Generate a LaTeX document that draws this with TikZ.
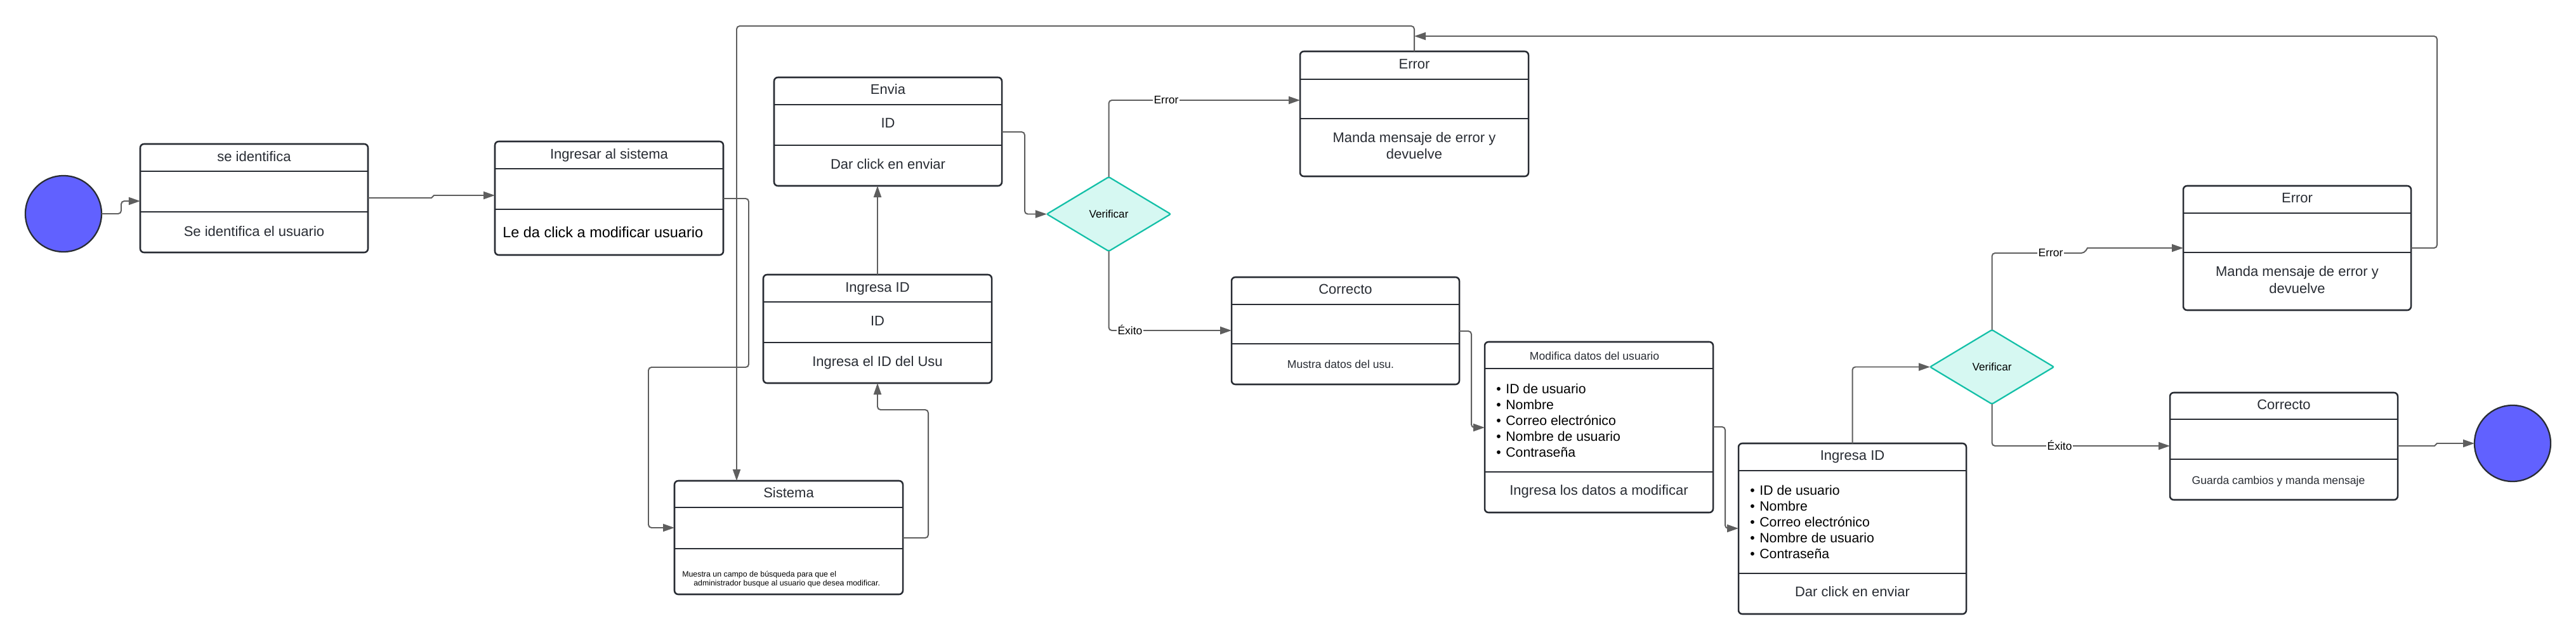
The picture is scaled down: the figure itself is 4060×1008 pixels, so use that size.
\documentclass[tikz,border=0pt]{standalone}
\usepackage{fontspec}
\setmainfont{Liberation Sans}
\usetikzlibrary{arrows.meta,shapes.geometric,fit}
\definecolor{boxc}{HTML}{282C33}
\definecolor{connc}{HTML}{5E5E5E}
\definecolor{circc}{HTML}{6161FF}
\definecolor{dfill}{HTML}{D6F8F2}
\definecolor{dline}{HTML}{14C0A8}
\definecolor{txtc}{HTML}{282C33}
\tikzset{
  box/.style={draw=boxc, line width=1.8pt, rounded corners=0.15cm, inner sep=0pt, outer sep=0pt, fill=white},
  divl/.style={draw=boxc, line width=1.8pt},
  conn/.style={draw=connc, line width=1.4pt, rounded corners=0.12cm, -{Triangle[length=0.45cm,width=0.3cm]}},
  circ/.style={circle, draw=boxc, line width=1.6pt, fill=circc, minimum size=3cm, inner sep=0pt, outer sep=0pt},
  decis/.style={diamond, draw=dline, fill=dfill, line width=1.6pt, minimum width=4.875cm, minimum height=2.925cm, inner sep=0pt, outer sep=0pt, rounded corners=0.05cm, font=\fontsize{12.2}{14}\selectfont, text=black},
  t/.style={font=\fontsize{15.65}{18}\selectfont, text=txtc, anchor=base, yshift=-0.198cm, inner sep=0pt},
  tb/.style={font=\fontsize{16.7}{19}\selectfont, text=black, anchor=base west, yshift=-0.21cm, inner sep=0pt},
  ts/.style={font=\fontsize{12.5}{15}\selectfont, text=txtc, anchor=base, yshift=-0.158cm, inner sep=0pt},
  tl/.style={font=\fontsize{15.1}{18}\selectfont, text=black, anchor=base west, yshift=-0.19cm, inner sep=0pt},
  tt/.style={font=\fontsize{8.8}{10}\selectfont, text=black, anchor=base west, yshift=-0.112cm, inner sep=0pt},
  lbl/.style={font=\fontsize{12.45}{14}\selectfont, text=black, fill=white, inner sep=1pt},
}
\newcommand{\umlbox}[7]{%
  \node[box, fit={(#2,#3) (#4,#5)}] (#1) {};
  \draw[divl] (#2,#6) -- (#4,#6);
  \draw[divl] (#2,#7) -- (#4,#7);
}
\begin{document}
\begin{tikzpicture}[x=0.025cm, y=-0.025cm]
\fill[white] (0,0) rectangle (4060,1008);
\useasboundingbox (0,0) rectangle (4060,1008);

% start / end
\node[circ] (start) at (100,337) {};
\node[circ] (endc) at (3960,699) {};

% boxes
\umlbox{sei}{221}{227}{580}{398}{270}{334}
\umlbox{ing}{780}{223}{1140}{402}{266}{330}
\umlbox{envia}{1220}{122}{1579}{293}{165}{229}
\umlbox{ingid}{1203}{433}{1563}{604}{476}{540}
\umlbox{sis}{1063}{758}{1423}{937}{800}{865}
\umlbox{err1}{2049}{81}{2409}{278}{125}{187}
\umlbox{cor1}{1941}{437}{2300}{606}{480}{542}
\umlbox{mod}{2340}{539}{2700}{808}{581}{744}
\umlbox{ing2}{2740}{699}{3099}{968}{742}{904}
\umlbox{err2}{3441}{293}{3800}{489}{336}{398}
\umlbox{cor2}{3420}{619}{3779}{788}{661}{724}

% decisions
\node[decis] (ver1) at (1747.5,337.5) {Verificar};
\node[decis] (ver2) at (3139.5,578.5) {Verificar};

% connectors
\draw[conn] (start.east) -- (191,337) -- (191,317) -- (sei.west |- 0,317);
\draw[conn, rounded corners=0pt] (sei.east |- 0,312) -- (680,312) -- (684,308) -- (ing.west |- 0,308);
\draw[conn] (ing.east |- 0,313) -- (1180,313) -- (1180,579) -- (1022,579) -- (1022,832) -- (sis.west |- 0,832);
\draw[conn] (sis.east |- 0,848) -- (1463,848) -- (1463,646) -- (1383,646) -- (ingid.south);
\draw[conn] (ingid.north) -- (ingid.north |- envia.south);
\draw[conn] (envia.east |- 0,208) -- (1615,208) -- (1615,0 |- ver1.west) -- (ver1.west);
\draw[conn] (ver1.north) -- (ver1.north |- 0,158) -- (err1.west |- 0,158);
\draw[conn] (ver1.south) -- (ver1.south |- 0,521) -- (cor1.west |- 0,521);
\draw[conn] (err1.north) -- (err1.north |- 0,41) -- (1161,41) -- (1161,0 |- sis.north);
\draw[conn] (cor1.east |- 0,522) -- (2319,522) -- (2319,674) -- (mod.west |- 0,674);
\draw[conn] (mod.east |- 0,673) -- (2719,673) -- (2719,833) -- (ing2.west |- 0,833);
\draw[conn] (ing2.north) -- (ing2.north |- ver2.west) -- (ver2.west);
\draw[conn] (ver2.north) -- (ver2.north |- 0,399) -- (3285,399) [sharp corners] -- (3290,391) -- (err2.west |- 0,391);
\draw[conn] (ver2.south) -- (ver2.south |- 0,703) -- (cor2.west |- 0,703);
\draw[conn] (err2.east |- 0,391) -- (3841,391) -- (3841,57) -- (err1.north |- 0,57);
\draw[conn, rounded corners=0pt] (cor2.east |- 0,703) -- (3837,703) -- (3841,699) -- (endc.west);

% connector labels
\node[lbl] (lbe1) at (1838,158) {Error};
\node[lbl] (lbx1) at (1781,520) {Éxito};
\node[lbl] (lbe2) at (3232,399) {Error};
\node[lbl] (lbx2) at (3246,702) {Éxito};

% texts
\node[t] (sei-h) at (400.5,247) {se identifica};
\node[t] (sei-b) at (400.5,365) {Se identifica el usuario};
\node[t] (ing-h) at (960,243) {Ingresar al sistema};
\node[tb] (ing-b) at (792,366) {Le da click a modificar usuario};
\node[t] (envia-h) at (1399.5,141) {Envia};
\node[t] (envia-m) at (1399.5,194) {ID};
\node[t] (envia-b) at (1399.5,259) {Dar click en enviar};
\node[t] (ingid-h) at (1383,453) {Ingresa ID};
\node[t] (ingid-m) at (1383,506) {ID};
\node[t] (ingid-b) at (1383,570) {Ingresa el ID del Usu};
\node[t] (sis-h) at (1243,777) {Sistema};
\node[tt] (sis-b1) at (1075,905) {Muestra un campo de búsqueda para que el};
\node[tt] (sis-b2) at (1093,919) {administrador busque al usuario que desea modificar.};
\node[t] (err1-h) at (2229,101) {Error};
\node[t] (err1-b1) at (2229,217) {Manda mensaje de error y};
\node[t] (err1-b2) at (2229,243) {devuelve};
\node[t] (cor1-h) at (2120.5,456) {Correcto};
\node[ts] (cor1-b) at (2113,574) {Mustra datos del usu.};
\node[ts] (mod-h) at (2513,561) {Modifica datos del usuario};
\foreach \s [count=\i] in {ID de usuario, Nombre, Correo electrónico, Nombre de usuario, Contraseña} {
  \node[tl] (modl\i) at (2358,{588+25*\i}) {•\hspace{0.36em}\s};
  \node[tl] (ingl\i) at (2758,{748+25*\i}) {•\hspace{0.36em}\s};
}
\node[t] (mod-b) at (2520,773) {Ingresa los datos a modificar};
\node[t] (ing2-h) at (2919.5,718) {Ingresa ID};
\node[t] (ing2-b) at (2919.5,933) {Dar click en enviar};
\node[t] (err2-h) at (3620.5,312) {Error};
\node[t] (err2-b1) at (3620.5,428) {Manda mensaje de error y};
\node[t] (err2-b2) at (3620.5,455) {devuelve};
\node[t] (cor2-h) at (3599.5,638) {Correcto};
\node[ts] (cor2-b) at (3591,757) {Guarda cambios y manda mensaje};
\end{tikzpicture}
\end{document}
